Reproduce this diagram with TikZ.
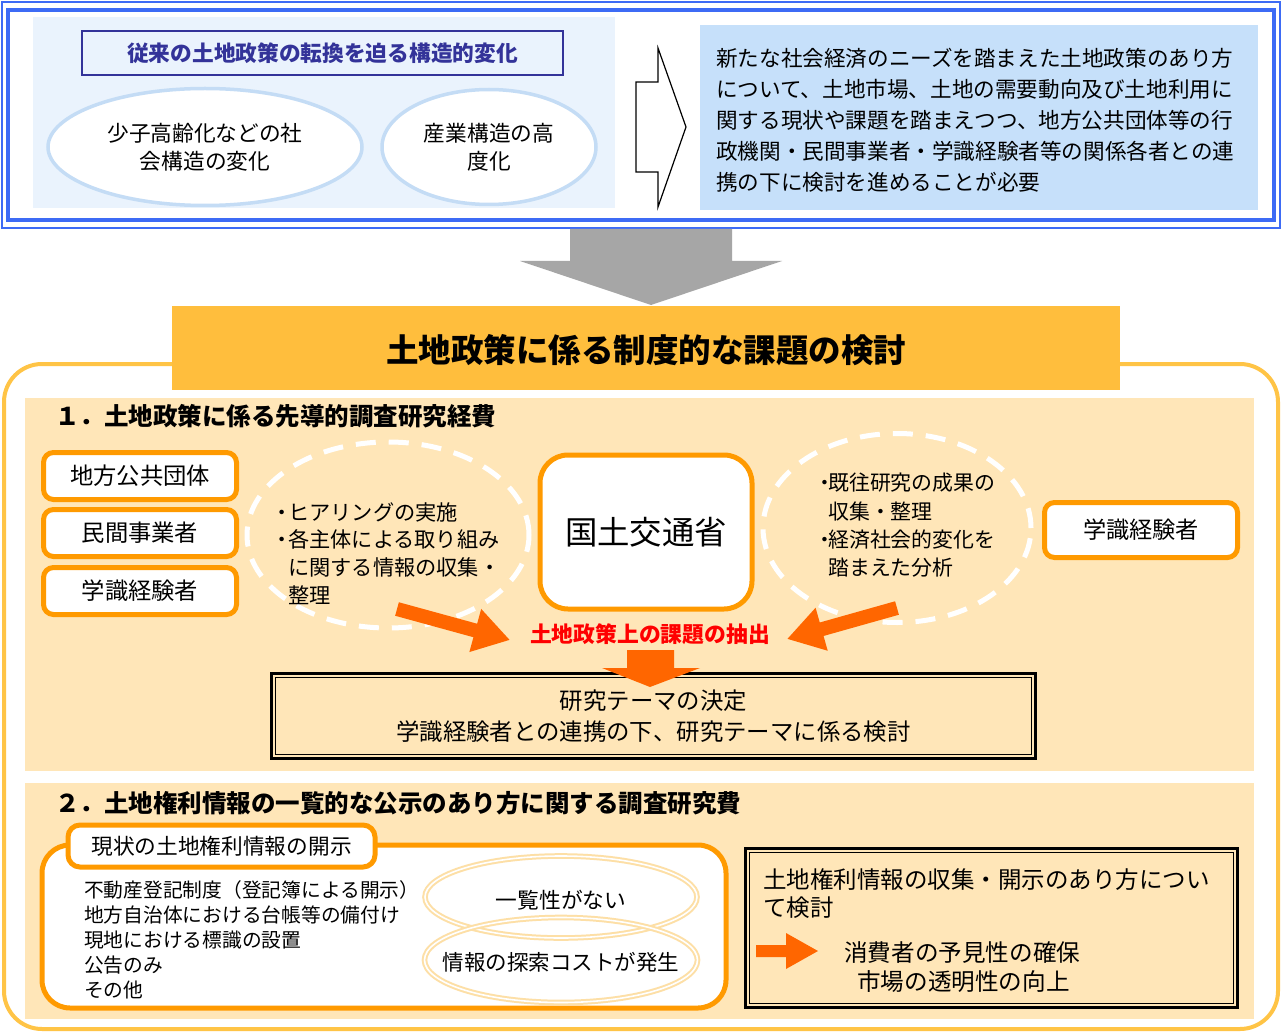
\documentclass[tikz,border=0pt]{standalone}
\usepackage{fontspec}
\setmainfont{Noto Sans CJK JP}
\usetikzlibrary{shapes.geometric,arrows.meta}
\definecolor{topblue}{HTML}{3D6BF5}
\definecolor{lightpanel}{HTML}{EAF3FD}
\definecolor{rightpanel}{HTML}{C6E0FA}
\definecolor{ellblue}{HTML}{C4DCF5}
\definecolor{navy}{HTML}{333399}
\definecolor{arrowgray}{HTML}{A6A6A6}
\definecolor{bandcol}{HTML}{FFBE3D}
\definecolor{framecol}{HTML}{FFC446}
\definecolor{peach}{HTML}{FFE6B8}
\definecolor{boxorange}{HTML}{FF9A00}
\definecolor{arroworange}{HTML}{FF6600}
\definecolor{ellorange}{HTML}{FDDFA6}
\newcommand\myfs[2]{\fontsize{#1}{#2}\selectfont}
\tikzset{
  txt/.style={inner sep=0pt, text=black},
  obox/.style={draw=boxorange, line width=5pt, fill=white, rounded corners=10pt, inner sep=0pt},
  blueell/.style={ellipse, draw=ellblue, line width=3.5pt, fill=white, inner sep=0pt, align=center, font=\myfs{21.7}{28}},
  dashell/.style={ellipse, draw=white, line width=5pt, dash pattern=on 20pt off 13pt, inner sep=0pt},
  dblell/.style={ellipse, draw=ellorange, line width=2pt, double=white, double distance=1.6pt, inner sep=0pt},
  heading/.style={txt, anchor=west, font=\myfs{24.5}{28}\bfseries},
  fatarrow/.style={draw=arroworange, line width=14pt, -{Triangle[length=36pt,width=42pt]}, shorten >=0pt}
}
\begin{document}
\begin{tikzpicture}[x=1pt,y=-1pt]
\useasboundingbox (0,0) rectangle (1282,1032);
\fill[white] (0,0) rectangle (1282,1032);
% ---------- top block ----------
\draw[topblue, line width=2.5pt] (2,2) rectangle (1280,228);
\draw[topblue, line width=4pt] (8,10) rectangle (1274,220);
\fill[lightpanel] (33,17) rectangle (615,208);
\node[draw=navy, line width=2pt, fill=lightpanel, minimum width=481pt, minimum height=44pt, inner sep=0pt,
      font=\myfs{21.7}{24}\bfseries, text=navy] (title1) at (322.5,53) {従来の土地政策の転換を迫る構造的変化};
\node[blueell, minimum width=314pt, minimum height=117pt] (ell1) at (205,147) {少子高齢化などの社\\会構造の変化};
\node[blueell, minimum width=214pt, minimum height=115pt] (ell2) at (489,147) {産業構造の高\\度化};
\draw[fill=white, line width=1.2pt, line join=miter] (636,82) -- (658,82) -- (658,48) -- (686,127) -- (658,207) -- (658,172) -- (636,172) -- cycle;
\fill[rightpanel] (700,25) rectangle (1258,210);
\node[txt, anchor=west, align=left, font=\myfs{21.6}{31}] (needs) at (716,120)
 {新たな社会経済のニーズを踏まえた土地政策のあり方\\について、土地市場、土地の需要動向及び土地利用に\\関する現状や課題を踏まえつつ、地方公共団体等の行\\政機関・民間事業者・学識経験者等の関係各者との連\\携の下に検討を進めることが必要};
% gray arrow
\fill[arrowgray] (570,229) -- (732,229) -- (732,261) -- (782,261) -- (651,305) -- (520,261) -- (570,261) -- cycle;
% ---------- big frame ----------
\draw[framecol, line width=4pt, rounded corners=38pt] (4,364) rectangle (1278,1029);
\fill[bandcol] (172,306) rectangle (1120,390);
\node[txt, font=\myfs{32.5}{36}\bfseries] (band) at (646,350) {土地政策に係る制度的な課題の検討};
\fill[peach] (25,398) rectangle (1254,771);
\fill[peach] (25,783) rectangle (1254,1019);
% ---------- section 1 ----------
\node[heading] (h1) at (55,416) {１．土地政策に係る先導的調査研究経費};
\node[obox, minimum width=193pt, minimum height=47pt, font=\myfs{23.3}{26}] (chiho) at (140,476) {地方公共団体};
\node[obox, minimum width=193pt, minimum height=47pt, font=\myfs{23.3}{26}] (minkan) at (140,533) {民間事業者};
\node[obox, minimum width=193pt, minimum height=47pt, font=\myfs{23.3}{26}] (gakushiki1) at (140,591) {学識経験者};
\node[dashell, minimum width=282pt, minimum height=186pt] (dl) at (388,535) {};
\node[dashell, minimum width=268pt, minimum height=189pt] (dr) at (897,528) {};
\node[txt, anchor=west, align=left, font=\myfs{21.2}{27.7}] (dltext) at (271,553.5)
 {\makebox[17pt][l]{・}ヒアリングの実施\\\makebox[17pt][l]{・}各主体による取り組み\\\hspace*{17pt}に関する情報の収集・\\\hspace*{17pt}整理};
\node[txt, anchor=west, align=left, font=\myfs{20.9}{28.3}] (drtext) at (814,525.5)
 {\makebox[14pt][l]{・}既往研究の成果の\\\hspace*{14pt}収集・整理\\\makebox[14pt][l]{・}経済社会的変化を\\\hspace*{14pt}踏まえた分析};
\node[obox, rounded corners=28pt, minimum width=212pt, minimum height=154pt, font=\myfs{32.4}{36}] (mlit) at (646,532) {国土交通省};
\node[obox, minimum width=193pt, minimum height=55pt, font=\myfs{23.2}{26}] (gakushiki2) at (1141,530) {学識経験者};
\node[txt, text=red, font=\myfs{21.8}{24}\bfseries] (extract) at (650,634) {土地政策上の課題の抽出};
\coordinate (la) at (397,609);
\coordinate (ra) at (897,608);
\draw[fatarrow] (la) -- ([shift={(-140,6)}]extract.center);
\draw[fatarrow] (ra) -- ([shift={(137,5)}]extract.center);
\node[draw, line width=3pt, minimum width=764pt, minimum height=85pt, inner sep=0pt, align=center, font=\myfs{23.4}{31}] (theme) at (653.5,716)
 {研究テーマの決定\\学識経験者との連携の下、研究テーマに係る検討};
\draw[line width=1.3pt] ([shift={(5.5,5.5)}]theme.north west) rectangle ([shift={(-5.5,-5.5)}]theme.south east);
\fill[arroworange] (627,650) -- (674,650) -- (674,668) -- (700,668) -- (650,687) -- (602,668) -- (627,668) -- cycle;
% ---------- section 2 ----------
\node[heading] (h2) at (55,803) {２．土地権利情報の一覧的な公示のあり方に関する調査研究費};
\node[obox, rounded corners=28pt, minimum width=684pt, minimum height=163pt] (curbox) at (384,926.5) {};
\node[obox, rounded corners=12pt, minimum width=307pt, minimum height=42pt, font=\myfs{21.7}{24}] (tab) at (221.5,846) {現状の土地権利情報の開示};
\node[txt, anchor=west, align=left, font=\myfs{19.75}{25}] (list) at (84,940)
 {不動産登記制度（登記簿による開示）\\地方自治体における台帳等の備付け\\現地における標識の設置\\公告のみ\\その他};
\node[dblell, minimum width=272pt, minimum height=82pt] (noList) at (561,897) {};
\node[dblell, minimum width=273pt, minimum height=85pt] (cost) at (561,960) {};
\node[txt, font=\myfs{21.7}{24}] (noListT) at (561,900) {一覧性がない};
\node[txt, font=\myfs{21.5}{24}] (costT) at (561,962) {情報の探索コストが発生};
\node[draw, line width=3pt, minimum width=492pt, minimum height=159pt, inner sep=0pt] (study) at (991.5,928) {};
\draw[line width=1.3pt] ([shift={(5.5,5.5)}]study.north west) rectangle ([shift={(-5.5,-5.5)}]study.south east);
\node[txt, anchor=west, align=left, font=\myfs{23.5}{28}] (studyT) at (763,894) {土地権利情報の収集・開示のあり方につい\\て検討};
\fill[arroworange] (756,945) -- (786,945) -- (786,933) -- (818,951) -- (786,969) -- (786,957) -- (756,957) -- cycle;
\node[txt, anchor=west, font=\myfs{23.6}{26}] (pred) at (844,953) {消費者の予見性の確保};
\node[txt, anchor=west, font=\myfs{23.6}{26}] (trans) at (857,982) {市場の透明性の向上};
\end{tikzpicture}
\end{document}
